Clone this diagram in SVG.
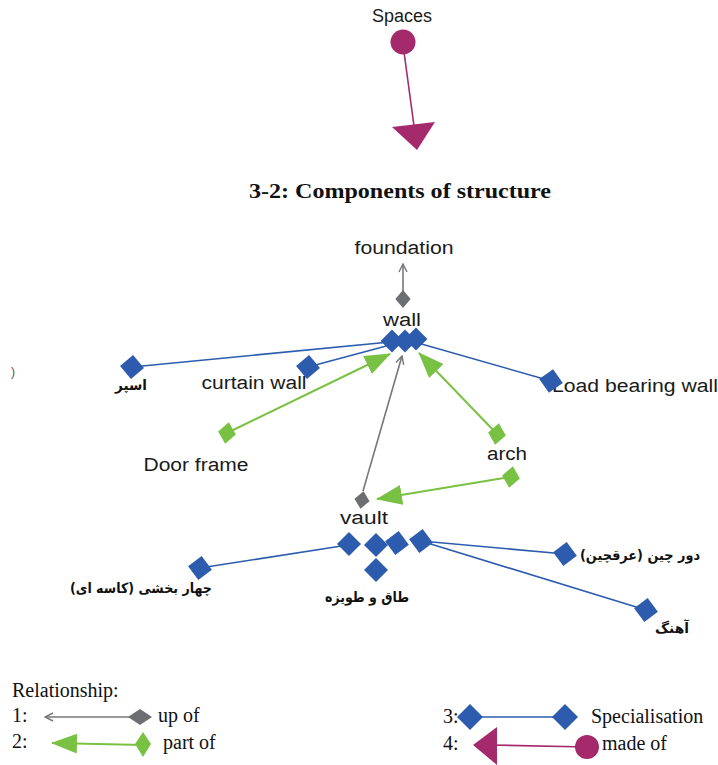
<svg xmlns="http://www.w3.org/2000/svg" width="718" height="765" viewBox="0 0 718 765">
  <style>
    .lbl { font-family: "Liberation Sans", Arial, sans-serif; font-size: 18px; fill: #1a1a1a; }
    .fa { font-family: "DejaVu Sans", "Noto Sans", sans-serif; font-size: 14px; font-weight: bold; fill: #111; }
    .ser { font-family: "Liberation Serif", "Times New Roman", serif; font-size: 20px; fill: #111; }
    .spec { stroke: #2d5caf; stroke-width: 1.6; fill: none; }
    .part { stroke: #79c143; stroke-width: 2; fill: none; }
    .up { stroke: #76777a; stroke-width: 1.6; fill: none; }
    .made { stroke: #a52a6c; stroke-width: 1.6; fill: none; }
    .bd { fill: #2d5caf; }
    .gd { fill: #79c143; }
    .kd { fill: #6d6e71; }
    .md { fill: #a52a6c; }
  </style>
  <defs>
    <path id="dia" d="M0,-12 L12,0 L0,12 L-12,0 Z"/>
    <path id="diaS" d="M0,-9 L9,0 L0,9 L-9,0 Z"/>
    <marker id="partHead" viewBox="0 0 26 20" refX="25" refY="10" markerWidth="26" markerHeight="20" markerUnits="userSpaceOnUse" orient="auto">
      <path d="M0,0 L26,10 L0,20 Z" fill="#79c143"/>
    </marker>
    <marker id="upHead" viewBox="0 0 10 10" refX="9" refY="5" markerWidth="10" markerHeight="10" markerUnits="userSpaceOnUse" orient="auto">
      <path d="M1,1 L9,5 L1,9" fill="none" stroke="#76777a" stroke-width="1.4"/>
    </marker>
  </defs>

  <rect width="718" height="765" fill="#ffffff"/>

  <!-- made-of example at the top -->
  <g id="spaces">
    <text class="lbl" x="402" y="22" text-anchor="middle" font-size="15">Spaces</text>
    <line class="made" x1="404" y1="52" x2="414" y2="126"/>
    <circle class="md" cx="403" cy="42" r="12.5"/>
    <polygon class="md" points="392,127 435,122 417,150"/>
  </g>

  <text x="400" y="198" text-anchor="middle" font-family="Liberation Serif, Times New Roman, serif" font-weight="bold" font-size="20" fill="#111" textLength="302" lengthAdjust="spacingAndGlyphs">3-2: Components of structure</text>

  <!-- connectors -->
  <g id="connectors">
    <!-- specialisation (blue) -->
    <line class="spec" x1="390" y1="342" x2="132" y2="367"/>
    <line class="spec" x1="390" y1="345" x2="308" y2="367"/>
    <line class="spec" x1="418" y1="343" x2="551" y2="381"/>
    <line class="spec" x1="348" y1="545" x2="200" y2="568"/>
    <line class="spec" x1="421" y1="541" x2="565" y2="554"/>
    <line class="spec" x1="421" y1="541" x2="646" y2="610"/>
    <!-- part of (green) -->
    <line class="part" x1="227" y1="433" x2="390" y2="354" marker-end="url(#partHead)"/>
    <line class="part" x1="497" y1="434" x2="419" y2="353" marker-end="url(#partHead)"/>
    <line class="part" x1="510" y1="477" x2="377" y2="499" marker-end="url(#partHead)"/>
    <!-- up of (grey) -->
    <line class="up" x1="403" y1="291" x2="403" y2="264" marker-end="url(#upHead)"/>
    <line class="up" x1="363" y1="491" x2="402" y2="356" marker-end="url(#upHead)"/>
  </g>

  <!-- nodes -->
  <g id="foundation">
    <text class="lbl" x="404" y="254" text-anchor="middle" textLength="99" lengthAdjust="spacingAndGlyphs">foundation</text>
  </g>

  <g id="wall">
    <use href="#diaS" class="kd" transform="translate(403,299) scale(0.85,1)"/>
    <text class="lbl" x="402" y="326" text-anchor="middle" textLength="38" lengthAdjust="spacingAndGlyphs">wall</text>
    <use href="#dia" class="bd" transform="translate(392,341) scale(0.95)"/>
    <use href="#dia" class="bd" transform="translate(405,341) scale(0.95)"/>
    <use href="#dia" class="bd" transform="translate(416,339) scale(0.95)"/>
  </g>

  <g id="ospar">
    <use href="#dia" class="bd" transform="translate(132,367) rotate(5)"/>
    <text class="fa" x="131" y="390" text-anchor="middle" textLength="32" lengthAdjust="spacingAndGlyphs">اسپر</text>
  </g>

  <g id="curtain-wall">
    <use href="#dia" class="bd" transform="translate(308,367) rotate(5)"/>
    <text class="lbl" x="254" y="389" text-anchor="middle" textLength="105" lengthAdjust="spacingAndGlyphs">curtain wall</text>
  </g>

  <g id="load-bearing-wall">
    <text class="lbl" x="552" y="392" textLength="166" lengthAdjust="spacingAndGlyphs">Load bearing wall</text>
    <use href="#dia" class="bd" transform="translate(551,381) rotate(10)"/>
  </g>

  <g id="door-frame">
    <use href="#diaS" class="gd" transform="translate(227,433) rotate(10) scale(1,1.2)"/>
    <text class="lbl" x="196" y="471" text-anchor="middle" textLength="105" lengthAdjust="spacingAndGlyphs">Door frame</text>
  </g>

  <g id="arch">
    <use href="#diaS" class="gd" transform="translate(497,434) rotate(10) scale(1,1.2)"/>
    <text class="lbl" x="507" y="460" text-anchor="middle" textLength="40" lengthAdjust="spacingAndGlyphs">arch</text>
    <use href="#diaS" class="gd" transform="translate(511,477) rotate(10) scale(1,1.2)"/>
  </g>

  <g id="vault">
    <use href="#diaS" class="kd" transform="translate(362,500) rotate(10) scale(0.85,1)"/>
    <text class="lbl" x="364" y="524" text-anchor="middle" textLength="48" lengthAdjust="spacingAndGlyphs">vault</text>
    <use href="#dia" class="bd" transform="translate(349,544)"/>
    <use href="#dia" class="bd" transform="translate(376,545)"/>
    <use href="#dia" class="bd" transform="translate(397,543) rotate(8)"/>
    <use href="#dia" class="bd" transform="translate(421,541) rotate(8)"/>
    <use href="#dia" class="bd" transform="translate(376,570)"/>
  </g>

  <g id="four-part">
    <use href="#dia" class="bd" transform="translate(200,568) rotate(8)"/>
    <text class="fa" x="141" y="593" text-anchor="middle" textLength="142" lengthAdjust="spacingAndGlyphs">چهار بخشی (کاسه ای)</text>
  </g>

  <g id="taq-tavizeh">
    <text class="fa" x="367" y="602" text-anchor="middle" textLength="84" lengthAdjust="spacingAndGlyphs">طاق و طویزه</text>
  </g>

  <g id="dour-chin">
    <use href="#dia" class="bd" transform="translate(565,554) rotate(8)"/>
    <text class="fa" x="640" y="560" text-anchor="middle" textLength="120" lengthAdjust="spacingAndGlyphs">دور چین (عرقچین)</text>
  </g>

  <g id="ahang">
    <use href="#dia" class="bd" transform="translate(646,610) rotate(8)"/>
    <text class="fa" x="672" y="633" text-anchor="middle" textLength="34" lengthAdjust="spacingAndGlyphs">آهنگ</text>
  </g>

  <text x="11" y="376" font-family="Liberation Sans, Arial, sans-serif" font-size="12" fill="#555">)</text>

  <!-- legend -->
  <g id="legend">
    <text class="ser" x="12" y="697">Relationship:</text>
    <text class="ser" x="12" y="722">1:</text>
    <line class="up" x1="140" y1="717" x2="45" y2="717" marker-end="url(#upHead)"/>
    <path class="kd" d="M128,717 L140,709 L152,717 L140,725 Z"/>
    <text class="ser" x="158" y="722">up of</text>

    <text class="ser" x="12" y="748">2:</text>
    <line class="part" x1="143" y1="745" x2="52" y2="743" marker-end="url(#partHead)"/>
    <path class="gd" d="M143,732 L151,744 L143,757 L135,744 Z"/>
    <text class="ser" x="163" y="749">part of</text>

    <text class="ser" x="443" y="723">3:</text>
    <line class="spec" x1="470" y1="717" x2="565" y2="717"/>
    <path class="bd" d="M470,704 L483,717 L470,730 L457,717 Z"/>
    <path class="bd" d="M565,704 L578,717 L565,730 L552,717 Z"/>
    <text class="ser" x="591" y="723">Specialisation</text>

    <text class="ser" x="443" y="750">4:</text>
    <line class="made" x1="587" y1="747" x2="490" y2="745"/>
    <polygon class="md" points="473,745 497,727 497,765"/>
    <circle class="md" cx="587" cy="747" r="12"/>
    <text class="ser" x="602" y="750">made of</text>
  </g>
</svg>
